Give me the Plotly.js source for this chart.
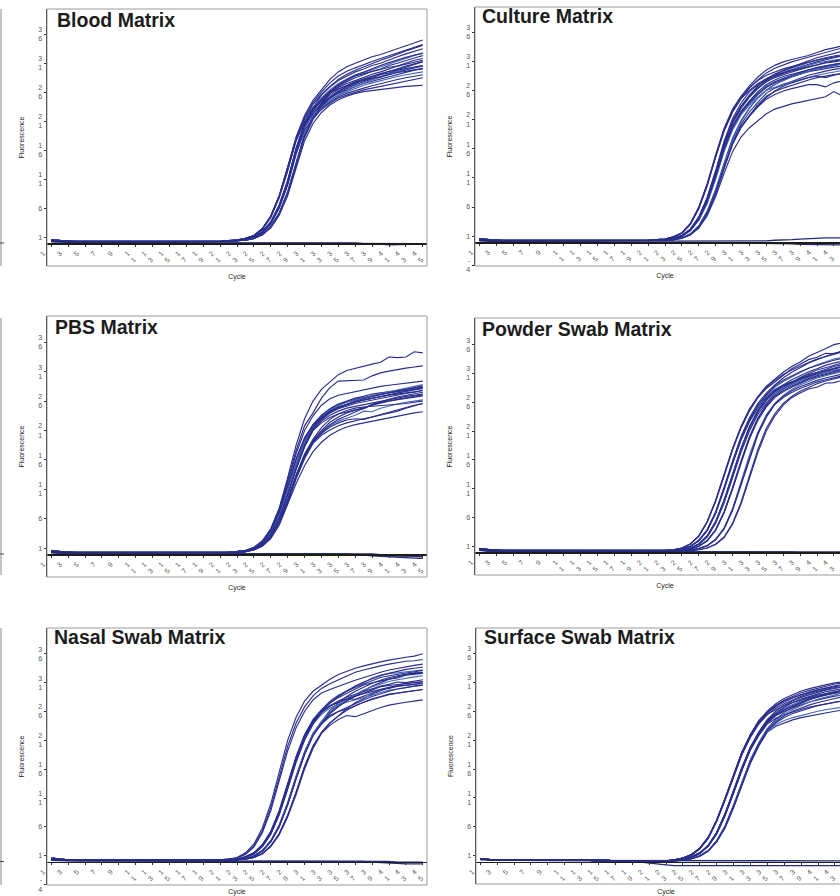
<!DOCTYPE html>
<html>
<head>
<meta charset="utf-8">
<script src="https://cdn.plot.ly/plotly-3.0.1.min.js"></script>
<style>
html,body{margin:0;padding:0;overflow:hidden;background:#fff;}
#chart{width:880px;height:896px;}
</style>
</head>
<body>
<div id="chart"></div>
<script>
// ---------------- DATA ----------------
const cycles = [1,2,3,4,5,6,7,8,9,10,11,12,13,14,15,16,17,18,19,20,21,22,23,24,25,26,27,28,29,30,31,32,33,34,35,36,37,38,39,40,41,42,43,44,45];
const xTickVals = [1,3,5,7,9,11,13,15,17,19,21,23,25,27,29,31,33,35,37,39,41,43,45];
const xTickText = ['1','3','5','7','9','1<br>1','1<br>3','1<br>5','1<br>7','1<br>9','2<br>1','2<br>3','2<br>5','2<br>7','2<br>9','3<br>1','3<br>3','3<br>5','3<br>7','3<br>9','4<br>1','4<br>3','4<br>5'];
const yTickVals = [-4,1,6,11,16,21,26,31,36];
const yTickText = ['-<br>4','1','6','1<br>1','1<br>6','2<br>1','2<br>6','3<br>1','3<br>6'];
const panelTitles = ['Blood Matrix','Culture Matrix','PBS Matrix','Powder Swab Matrix','Nasal Swab Matrix','Surface Swab Matrix'];
const xTitle = 'Cycle';
const yTitle = 'Fluorescence';

const bloodCurves = [
[0.6,0.4,0.3,0.3,0.3,0.2,0.2,0.2,0.2,0.2,0.2,0.2,0.2,0.2,0.2,0.2,0.2,0.2,0.2,0.2,0.3,0.4,0.5,0.8,1.3,2.5,4.7,8.2,13.0,18.3,22.0,24.6,26.5,28.2,29.5,30.4,31.0,31.6,32.1,32.5,33.0,33.5,34.0,34.6,35.0],
[0.5,0.3,0.3,0.2,0.2,0.2,0.2,0.2,0.2,0.2,0.2,0.2,0.3,0.3,0.2,0.2,0.2,0.2,0.2,0.2,0.3,0.4,0.5,0.8,1.3,2.4,4.6,8.0,12.8,18.0,21.7,24.2,26.0,27.6,28.8,29.6,30.2,30.8,31.3,31.8,32.3,32.8,33.2,33.8,34.2],
[0.4,0.3,0.2,0.2,0.2,0.2,0.2,0.2,0.3,0.3,0.3,0.2,0.2,0.2,0.2,0.2,0.2,0.2,0.2,0.3,0.3,0.3,0.4,0.6,1.0,1.9,3.6,6.4,10.6,16.2,20.6,23.3,25.5,26.9,28.0,28.8,29.5,30.0,30.6,31.0,31.6,32.1,32.6,33.0,33.5],
[0.6,0.4,0.3,0.3,0.3,0.2,0.2,0.2,0.2,0.2,0.2,0.2,0.2,0.2,0.2,0.2,0.2,0.2,0.2,0.2,0.3,0.3,0.4,0.6,1.0,2.0,3.7,6.6,10.8,16.4,20.8,23.2,25.0,26.4,27.5,28.3,29.0,29.4,29.9,30.3,30.9,31.3,31.8,32.4,32.8],
[0.5,0.3,0.3,0.2,0.2,0.2,0.2,0.2,0.2,0.2,0.2,0.2,0.3,0.3,0.2,0.2,0.2,0.2,0.2,0.2,0.2,0.3,0.4,0.5,0.8,1.5,2.8,5.0,8.6,13.6,18.6,21.8,24.0,25.8,27.0,27.8,28.5,29.0,29.6,30.0,30.6,31.0,31.5,31.9,32.3],
[0.4,0.3,0.2,0.2,0.2,0.2,0.2,0.2,0.3,0.3,0.3,0.2,0.2,0.2,0.2,0.2,0.2,0.2,0.2,0.3,0.3,0.3,0.4,0.6,1.0,1.9,3.5,6.3,10.4,16.0,20.4,22.8,24.5,25.8,26.8,27.5,28.0,28.6,29.1,29.5,30.0,30.6,31.0,31.5,31.8],
[0.6,0.4,0.3,0.3,0.3,0.2,0.2,0.2,0.2,0.2,0.2,0.2,0.2,0.2,0.2,0.2,0.2,0.2,0.2,0.2,0.3,0.4,0.5,0.7,1.2,2.3,4.4,7.8,12.4,17.6,21.0,23.0,24.3,25.5,26.5,27.2,27.8,28.3,28.8,29.2,29.6,29.9,30.3,30.8,31.2],
[0.5,0.3,0.3,0.2,0.2,0.2,0.2,0.2,0.2,0.2,0.2,0.2,0.3,0.3,0.2,0.2,0.2,0.2,0.2,0.2,0.3,0.3,0.4,0.6,1.0,1.8,3.4,6.1,10.2,15.6,19.8,22.3,24.0,25.1,26.0,26.7,27.3,27.8,28.3,28.7,29.1,29.5,29.8,30.2,30.5],
[0.4,0.3,0.2,0.2,0.2,0.2,0.2,0.2,0.3,0.3,0.3,0.2,0.2,0.2,0.2,0.2,0.2,0.2,0.2,0.3,0.2,0.3,0.4,0.5,0.8,1.5,2.9,5.2,8.9,14.0,18.8,21.8,23.8,24.9,25.8,26.4,27.0,27.5,27.9,28.3,28.7,29.1,29.5,29.8,30.0],
[0.6,0.4,0.3,0.3,0.3,0.2,0.2,0.2,0.2,0.2,0.2,0.2,0.2,0.2,0.2,0.2,0.2,0.2,0.2,0.2,0.3,0.3,0.4,0.6,1.0,1.9,3.5,6.2,10.3,15.8,20.0,22.0,23.5,24.6,25.5,26.1,26.7,27.2,27.6,28.0,28.4,28.7,29.0,29.3,29.5],
[0.5,0.3,0.3,0.2,0.2,0.2,0.2,0.2,0.2,0.2,0.2,0.2,0.3,0.3,0.2,0.2,0.2,0.2,0.2,0.2,0.2,0.3,0.4,0.5,0.8,1.4,2.7,4.9,8.4,13.4,18.2,21.3,23.2,24.3,25.2,25.8,26.3,26.7,27.1,27.5,27.8,28.2,28.5,28.8,29.0],
[0.4,0.3,0.2,0.2,0.2,0.2,0.2,0.2,0.3,0.3,0.3,0.2,0.2,0.2,0.2,0.2,0.2,0.2,0.2,0.3,0.3,0.3,0.4,0.6,0.9,1.8,3.3,6.0,10.0,15.3,19.4,21.6,23.0,24.1,25.0,25.5,26.0,26.4,26.7,27.0,27.4,27.7,28.0,28.3,28.5],
[0.6,0.4,0.3,0.3,0.3,0.2,0.2,0.2,0.2,0.2,0.2,0.2,0.2,0.2,0.2,0.2,0.2,0.2,0.2,0.2,0.2,0.3,0.4,0.5,0.8,1.4,2.6,4.8,8.2,13.0,17.6,20.6,22.5,23.8,24.7,25.3,25.8,26.1,26.3,26.5,26.7,26.8,27.0,27.1,27.2],
[0.5,0.3,0.3,0.2,0.2,0.2,0.2,0.2,0.2,0.2,0.2,0.2,0.3,0.3,0.2,0.2,0.2,0.2,0.2,0.2,0.3,0.4,0.5,0.8,1.2,2.4,4.5,8.0,12.6,17.8,21.4,23.4,24.5,26.0,27.2,28.0,28.8,29.2,29.6,30.0,30.3,30.5,30.8,31.2,31.5],
[0.4,0.3,0.2,0.2,0.2,0.2,0.2,0.2,0.3,0.3,0.3,0.2,0.2,0.2,0.2,0.2,0.2,0.2,0.2,0.3,0.3,0.3,0.4,0.6,1.0,1.9,3.6,6.5,10.8,16.3,20.5,23.0,24.8,26.2,27.3,28.2,28.9,29.5,30.1,30.6,31.1,31.6,32.0,32.4,32.7],
[0.6,0.4,0.3,0.3,0.3,0.2,0.2,0.2,0.2,0.2,0.2,0.2,0.2,0.2,0.2,0.2,0.2,0.2,0.2,0.2,0.2,0.3,0.4,0.5,0.8,1.5,2.8,5.1,8.7,13.8,18.7,21.6,23.4,24.6,25.5,26.3,27.0,27.6,28.1,28.6,29.2,29.6,30.0,30.3,30.6],
[0.5,0.3,0.3,0.2,0.2,0.2,0.2,0.2,0.2,0.2,0.2,0.2,0.3,0.3,0.2,0.2,0.2,0.2,0.2,0.2,0.3,0.4,0.5,0.8,1.3,2.5,4.6,8.1,12.9,18.1,21.6,23.9,25.6,27.0,28.2,29.1,29.8,30.4,31.0,31.5,32.0,32.6,33.1,33.6,34.1],
[0.4,0.3,0.2,0.2,0.2,0.2,0.2,0.2,0.3,0.3,0.3,0.2,0.2,0.2,0.2,0.2,0.2,0.2,0.2,0.3,0.3,0.3,0.4,0.6,1.0,1.9,3.5,6.3,10.5,16.0,20.2,22.5,24.0,25.2,26.2,27.0,27.6,28.0,28.5,29.0,29.3,29.8,30.1,30.3,30.6],
[0.6,0.4,0.3,0.3,0.3,0.2,0.2,0.2,0.2,0.2,0.2,0.2,0.2,0.2,0.2,0.2,0.2,0.2,0.2,0.2,0.2,0.3,0.4,0.5,0.8,1.5,2.8,5.1,8.7,13.7,18.5,21.5,23.6,25.0,26.1,26.9,27.5,28.1,28.7,29.1,29.6,30.0,30.5,30.9,31.3],
[0.5,0.3,0.3,0.2,0.2,0.2,0.2,0.2,0.2,0.2,0.2,0.2,0.3,0.3,0.2,0.2,0.2,0.2,0.2,0.2,0.3,0.3,0.4,0.6,1.0,1.9,3.5,6.3,10.5,16.1,20.5,23.1,24.7,25.9,26.6,27.1,27.8,28.0,28.4,28.6,29.0,29.4,29.6,29.9,30.1]
];
const bloodNegatives = [
[0.3,0.2,0.1,0.1,0.1,0.1,0.1,0.1,0.1,0.1,0.1,0.1,0.1,0.1,0.1,0.1,0.1,0.1,0.1,0.1,0.1,0.1,0.1,0.1,0.1,0.1,0.1,0.1,0.1,0.1,0.1,0.1,0.1,0.1,0.0,0.0,0.0,-0.1,-0.1,-0.2,-0.3,-0.3,-0.3,-0.3,-0.2],
[0.2,0.1,0.1,0.1,0.0,0.0,0.0,0.0,0.0,0.0,0.0,0.0,0.0,0.0,0.0,0.0,0.0,0.0,0.0,0.0,0.0,0.0,0.0,0.0,0.0,0.0,0.0,0.0,0.0,0.0,0.0,0.0,0.0,0.0,0.0,0.0,-0.1,-0.1,-0.1,-0.1,-0.1,-0.1,-0.1,-0.1,-0.1]
];

const cultureCurves = [
[0.6,0.4,0.3,0.3,0.3,0.2,0.2,0.2,0.2,0.2,0.2,0.2,0.2,0.2,0.2,0.2,0.2,0.2,0.2,0.2,0.3,0.4,0.5,0.9,1.6,3.2,6.0,10.0,15.0,19.5,22.8,25.0,26.8,28.3,29.5,30.3,30.9,31.3,31.6,32.0,32.5,33.0,33.3,33.7,34.0],
[0.5,0.3,0.3,0.2,0.2,0.2,0.2,0.2,0.2,0.2,0.2,0.2,0.3,0.3,0.2,0.2,0.2,0.2,0.2,0.2,0.3,0.4,0.5,0.9,1.5,3.0,5.7,9.6,14.6,19.0,22.3,24.6,26.4,27.8,29.0,29.8,30.4,30.9,31.3,31.7,32.1,32.5,33.0,33.3,33.5],
[0.4,0.3,0.2,0.2,0.2,0.2,0.2,0.2,0.3,0.3,0.3,0.2,0.2,0.2,0.2,0.2,0.2,0.2,0.2,0.3,0.2,0.3,0.4,0.6,1.1,2.2,4.2,7.5,12.0,17.0,20.8,23.3,25.2,26.8,28.0,28.8,29.4,29.9,30.4,30.8,31.2,31.5,31.8,32.0,32.2],
[0.6,0.4,0.3,0.3,0.3,0.2,0.2,0.2,0.2,0.2,0.2,0.2,0.2,0.2,0.2,0.2,0.2,0.2,0.2,0.2,0.2,0.3,0.4,0.6,1.1,2.1,4.0,7.2,11.6,16.5,20.3,22.9,24.8,26.3,27.5,28.3,28.9,29.4,29.9,30.3,30.7,31.0,31.2,31.4,31.5],
[0.5,0.3,0.3,0.2,0.2,0.2,0.2,0.2,0.2,0.2,0.2,0.2,0.3,0.3,0.2,0.2,0.2,0.2,0.2,0.2,0.3,0.4,0.5,0.8,1.5,3.0,5.8,9.8,14.8,19.2,22.4,24.6,26.0,27.2,28.0,28.5,29.0,29.4,29.7,30.0,30.4,30.8,31.1,31.3,31.5],
[0.4,0.3,0.2,0.2,0.2,0.2,0.2,0.2,0.3,0.3,0.3,0.2,0.2,0.2,0.2,0.2,0.2,0.2,0.2,0.3,0.2,0.3,0.4,0.6,1.0,2.0,3.9,7.0,11.3,16.2,19.9,22.4,24.2,25.8,27.0,27.8,28.4,28.8,29.2,29.6,29.9,30.2,30.5,30.8,31.0],
[0.6,0.4,0.3,0.3,0.3,0.2,0.2,0.2,0.2,0.2,0.2,0.2,0.2,0.2,0.2,0.2,0.2,0.2,0.2,0.2,0.2,0.2,0.3,0.4,0.7,1.4,2.8,5.3,9.0,13.5,17.8,20.8,23.0,24.7,26.0,27.0,27.8,28.4,28.9,29.3,29.7,30.0,30.3,30.6,30.8],
[0.5,0.3,0.3,0.2,0.2,0.2,0.2,0.2,0.2,0.2,0.2,0.2,0.3,0.3,0.2,0.2,0.2,0.2,0.2,0.2,0.2,0.3,0.4,0.6,1.0,2.0,3.8,6.8,11.0,15.8,19.5,22.0,23.8,25.3,26.5,27.3,27.9,28.4,28.8,29.2,29.5,29.8,30.0,30.1,30.2],
[0.4,0.3,0.2,0.2,0.2,0.2,0.2,0.2,0.3,0.3,0.3,0.2,0.2,0.2,0.2,0.2,0.2,0.2,0.2,0.3,0.2,0.2,0.3,0.4,0.7,1.3,2.6,5.0,8.6,13.0,17.2,20.2,22.3,24.0,25.5,26.4,27.0,27.6,28.1,28.6,29.0,29.3,29.6,29.8,30.0],
[0.6,0.4,0.3,0.3,0.3,0.2,0.2,0.2,0.2,0.2,0.2,0.2,0.2,0.2,0.2,0.2,0.2,0.2,0.2,0.2,0.2,0.3,0.4,0.6,1.0,1.9,3.7,6.6,10.8,15.5,19.2,21.8,23.5,24.9,26.0,26.6,27.1,27.5,27.9,28.3,28.6,28.9,29.2,29.4,29.5],
[0.5,0.3,0.3,0.2,0.2,0.2,0.2,0.2,0.2,0.2,0.2,0.2,0.3,0.3,0.2,0.2,0.2,0.2,0.2,0.2,0.2,0.2,0.3,0.4,0.7,1.3,2.5,4.8,8.3,12.6,16.8,19.8,21.8,23.6,25.0,25.8,26.4,26.9,27.4,27.8,28.2,28.5,28.7,28.9,29.0],
[0.4,0.3,0.2,0.2,0.2,0.2,0.2,0.2,0.3,0.3,0.3,0.2,0.2,0.2,0.2,0.2,0.2,0.2,0.2,0.3,0.2,0.2,0.3,0.4,0.7,1.3,2.6,4.9,8.4,12.8,16.9,19.7,21.6,23.2,24.5,25.3,25.9,26.3,26.7,27.0,27.0,26.6,27.3,27.7,28.0],
[0.6,0.4,0.3,0.3,0.3,0.2,0.2,0.2,0.2,0.2,0.2,0.2,0.2,0.2,0.2,0.2,0.2,0.2,0.2,0.2,0.2,0.2,0.3,0.4,0.6,1.2,2.4,4.5,7.8,11.8,15.5,18.0,19.6,20.8,22.0,22.8,23.3,23.7,24.0,24.3,24.6,24.9,25.8,25.1,25.5],
[0.5,0.3,0.3,0.2,0.2,0.2,0.2,0.2,0.2,0.2,0.2,0.2,0.3,0.3,0.2,0.2,0.2,0.2,0.2,0.2,0.2,0.3,0.4,0.6,1.1,2.2,4.3,7.7,12.3,17.3,21.2,23.8,25.8,27.0,27.8,28.6,29.4,30.0,30.6,31.1,31.6,32.0,32.4,32.7,33.0],
[0.4,0.3,0.2,0.2,0.2,0.2,0.2,0.2,0.3,0.3,0.3,0.2,0.2,0.2,0.2,0.2,0.2,0.2,0.2,0.3,0.2,0.3,0.4,0.6,1.1,2.2,4.2,7.4,11.8,16.8,20.6,23.1,25.0,26.4,27.5,28.2,28.7,29.2,29.6,30.0,30.4,30.7,30.9,31.2,31.4],
[0.6,0.4,0.3,0.3,0.3,0.2,0.2,0.2,0.2,0.2,0.2,0.2,0.2,0.2,0.2,0.2,0.2,0.2,0.2,0.2,0.2,0.2,0.3,0.4,0.7,1.4,2.7,5.2,8.8,13.3,17.5,20.6,22.9,24.7,26.1,27.0,27.7,28.3,28.8,29.3,29.7,30.0,30.3,30.5,30.7],
[0.5,0.3,0.3,0.2,0.2,0.2,0.2,0.2,0.2,0.2,0.2,0.2,0.3,0.3,0.2,0.2,0.2,0.2,0.2,0.2,0.3,0.4,0.5,0.9,1.6,3.1,5.9,9.9,14.8,19.3,22.5,24.8,26.5,27.7,28.6,29.2,29.7,30.1,30.5,30.9,31.3,31.6,31.9,32.2,32.4],
[0.4,0.3,0.2,0.2,0.2,0.2,0.2,0.2,0.3,0.3,0.3,0.2,0.2,0.2,0.2,0.2,0.2,0.2,0.2,0.3,0.2,0.3,0.4,0.6,1.0,2.0,3.9,7.0,11.2,16.0,19.7,22.2,24.0,25.5,26.7,27.5,28.1,28.6,29.1,29.5,29.9,30.2,30.5,30.7,30.9],
[0.6,0.4,0.3,0.3,0.3,0.2,0.2,0.2,0.2,0.2,0.2,0.2,0.2,0.2,0.2,0.2,0.2,0.2,0.2,0.2,0.2,0.2,0.3,0.4,0.7,1.3,2.6,5.0,8.5,12.8,16.8,19.6,21.6,23.3,24.8,25.9,26.7,27.3,27.8,28.2,28.5,28.2,28.6,29.0,29.3],
[0.5,0.3,0.3,0.2,0.2,0.2,0.2,0.2,0.2,0.2,0.2,0.2,0.3,0.3,0.2,0.2,0.2,0.2,0.2,0.2,0.2,0.3,0.4,0.6,1.1,2.1,4.1,7.3,11.7,16.6,20.5,23.0,25.0,26.5,27.7,28.5,29.1,29.6,30.1,30.5,30.9,31.3,31.6,31.9,32.1]
];
const cultureNegatives = [
[0.3,0.2,0.1,0.1,0.1,0.1,0.1,0.1,0.1,0.1,0.1,0.1,0.1,0.1,0.1,0.1,0.1,0.1,0.1,0.1,0.1,0.1,0.1,0.1,0.1,0.1,0.1,0.1,0.1,0.1,0.1,0.1,0.1,0.2,0.2,0.3,0.3,0.4,0.5,0.6,0.6,0.7,0.7,0.7,0.7],
[0.2,0.1,0.0,0.0,0.0,0.0,0.0,0.0,0.0,0.0,0.0,0.0,0.0,0.0,0.0,0.0,0.0,0.0,0.0,0.0,0.0,0.0,0.0,0.0,0.0,0.0,0.0,0.0,0.0,0.0,-0.1,-0.1,-0.2,-0.2,-0.2,-0.3,-0.3,-0.3,-0.4,-0.4,-0.4,-0.5,-0.5,-0.5,-0.5]
];

const pbsCurves = [
[0.6,0.4,0.3,0.3,0.3,0.2,0.2,0.2,0.2,0.2,0.2,0.2,0.2,0.2,0.2,0.2,0.2,0.2,0.2,0.2,0.3,0.3,0.4,0.6,1.1,2.2,4.3,7.8,13.0,18.5,23.0,26.0,28.0,29.3,30.5,31.2,31.6,32.0,32.3,32.6,33.5,33.4,33.5,34.4,34.2],
[0.5,0.3,0.3,0.2,0.2,0.2,0.2,0.2,0.2,0.2,0.2,0.2,0.3,0.3,0.2,0.2,0.2,0.2,0.2,0.2,0.3,0.3,0.4,0.6,1.1,2.2,4.2,7.6,12.5,17.6,21.8,24.0,26.5,28.3,29.4,29.5,29.5,29.6,30.3,30.8,31.1,31.4,31.6,31.8,32.0],
[0.4,0.3,0.2,0.2,0.2,0.2,0.2,0.2,0.3,0.3,0.3,0.2,0.2,0.2,0.2,0.2,0.2,0.2,0.2,0.3,0.3,0.3,0.4,0.6,1.1,2.1,4.1,7.4,12.2,17.0,21.0,23.5,25.3,26.4,27.0,27.3,27.7,28.0,28.3,28.5,28.7,28.9,29.1,29.3,29.4],
[0.6,0.4,0.3,0.3,0.3,0.2,0.2,0.2,0.2,0.2,0.2,0.2,0.2,0.2,0.2,0.2,0.2,0.2,0.2,0.2,0.2,0.3,0.4,0.5,0.9,1.8,3.5,6.5,10.5,15.0,18.8,21.8,23.3,24.3,25.0,25.5,25.9,26.2,26.5,26.8,27.1,27.4,27.7,27.9,28.1],
[0.5,0.3,0.3,0.2,0.2,0.2,0.2,0.2,0.2,0.2,0.2,0.2,0.3,0.3,0.2,0.2,0.2,0.2,0.2,0.2,0.2,0.3,0.4,0.5,0.9,1.8,3.5,6.4,10.3,14.8,18.6,21.5,23.0,24.0,24.7,25.2,25.6,25.9,26.2,26.5,26.8,27.0,27.3,27.5,27.8],
[0.4,0.3,0.2,0.2,0.2,0.2,0.2,0.2,0.3,0.3,0.3,0.2,0.2,0.2,0.2,0.2,0.2,0.2,0.2,0.3,0.3,0.3,0.4,0.6,1.0,2.1,4.0,7.2,11.6,16.2,19.8,22.0,23.5,24.6,25.4,25.9,26.3,26.6,26.9,27.2,27.4,27.6,27.8,28.0,28.2],
[0.6,0.4,0.3,0.3,0.3,0.2,0.2,0.2,0.2,0.2,0.2,0.2,0.2,0.2,0.2,0.2,0.2,0.2,0.2,0.2,0.2,0.3,0.4,0.5,0.9,1.7,3.4,6.3,10.2,14.6,18.4,21.2,22.6,23.6,24.3,24.8,25.1,25.4,25.7,26.0,26.2,26.5,26.8,27.0,27.2],
[0.5,0.3,0.3,0.2,0.2,0.2,0.2,0.2,0.2,0.2,0.2,0.2,0.3,0.3,0.2,0.2,0.2,0.2,0.2,0.2,0.2,0.2,0.3,0.4,0.8,1.5,3.0,5.6,9.2,13.3,16.8,19.3,21.0,22.4,23.3,24.0,24.5,24.9,25.3,25.7,26.0,26.3,26.6,26.9,27.1],
[0.4,0.3,0.2,0.2,0.2,0.2,0.2,0.2,0.3,0.3,0.3,0.2,0.2,0.2,0.2,0.2,0.2,0.2,0.2,0.3,0.2,0.3,0.4,0.5,0.9,1.7,3.4,6.2,10.0,14.4,18.2,21.0,22.3,23.2,23.8,24.2,24.5,24.7,25.4,25.8,26.0,26.3,26.5,26.7,26.9],
[0.6,0.4,0.3,0.3,0.3,0.2,0.2,0.2,0.2,0.2,0.2,0.2,0.2,0.2,0.2,0.2,0.2,0.2,0.2,0.2,0.2,0.2,0.3,0.4,0.8,1.5,2.9,5.5,9.0,13.0,16.5,19.0,20.6,21.8,22.6,23.1,23.6,24.3,24.2,24.8,25.2,25.5,25.8,26.0,26.2],
[0.5,0.3,0.3,0.2,0.2,0.2,0.2,0.2,0.2,0.2,0.2,0.2,0.3,0.3,0.2,0.2,0.2,0.2,0.2,0.2,0.2,0.2,0.3,0.4,0.7,1.4,2.8,5.3,8.8,12.8,16.2,18.8,20.2,21.1,21.8,22.3,22.7,23.0,23.3,23.6,24.0,24.3,24.8,25.2,25.6],
[0.4,0.3,0.2,0.2,0.2,0.2,0.2,0.2,0.3,0.3,0.3,0.2,0.2,0.2,0.2,0.2,0.2,0.2,0.2,0.3,0.2,0.2,0.3,0.4,0.7,1.3,2.6,4.9,8.3,12.0,15.0,17.4,19.0,20.2,21.0,21.6,22.0,22.3,22.6,22.9,23.2,23.5,23.8,24.0,24.2],
[0.6,0.4,0.3,0.3,0.3,0.2,0.2,0.2,0.2,0.2,0.2,0.2,0.2,0.2,0.2,0.2,0.2,0.2,0.2,0.2,0.2,0.3,0.4,0.5,0.9,1.8,3.6,6.6,10.7,15.3,19.2,22.0,23.6,24.7,25.5,26.0,26.5,26.8,27.2,27.4,27.6,27.8,28.0,28.2,28.4],
[0.5,0.3,0.3,0.2,0.2,0.2,0.2,0.2,0.2,0.2,0.2,0.2,0.3,0.3,0.2,0.2,0.2,0.2,0.2,0.2,0.2,0.2,0.3,0.4,0.8,1.5,3.0,5.7,9.3,13.5,17.0,19.5,21.5,22.9,23.8,24.4,24.8,25.0,25.1,25.3,25.4,25.5,25.6,25.8,26.0],
[0.4,0.3,0.2,0.2,0.2,0.2,0.2,0.2,0.3,0.3,0.3,0.2,0.2,0.2,0.2,0.2,0.2,0.2,0.2,0.3,0.2,0.3,0.4,0.5,0.9,1.8,3.5,6.4,10.4,14.9,18.7,21.6,23.1,24.1,24.9,25.4,25.8,26.2,26.5,26.8,27.1,27.3,27.6,27.9,28.3],
[0.6,0.4,0.3,0.3,0.3,0.2,0.2,0.2,0.2,0.2,0.2,0.2,0.2,0.2,0.2,0.2,0.2,0.2,0.2,0.2,0.2,0.3,0.4,0.5,0.9,1.8,3.5,6.5,10.6,15.1,19.0,21.9,23.4,24.5,25.2,25.8,26.2,26.6,27.0,27.3,27.6,27.9,28.2,28.5,28.8],
[0.5,0.3,0.3,0.2,0.2,0.2,0.2,0.2,0.2,0.2,0.2,0.2,0.3,0.3,0.2,0.2,0.2,0.2,0.2,0.2,0.2,0.2,0.3,0.4,0.8,1.5,2.9,5.5,9.1,13.2,16.7,19.2,20.8,22.0,22.9,23.5,24.2,24.8,25.4,25.9,26.3,26.7,27.0,27.3,27.5],
[0.4,0.3,0.2,0.2,0.2,0.2,0.2,0.2,0.3,0.3,0.3,0.2,0.2,0.2,0.2,0.2,0.2,0.2,0.2,0.3,0.3,0.3,0.4,0.6,1.0,2.0,3.9,7.1,11.4,16.0,19.6,21.9,23.3,24.3,25.0,25.5,25.9,26.2,26.5,26.8,27.0,27.2,27.4,27.6,27.8],
[0.6,0.4,0.3,0.3,0.3,0.2,0.2,0.2,0.2,0.2,0.2,0.2,0.2,0.2,0.2,0.2,0.2,0.2,0.2,0.2,0.2,0.3,0.4,0.5,0.9,1.7,3.4,6.2,10.1,14.5,18.3,21.1,22.8,24.0,24.9,25.5,26.0,26.4,26.8,27.1,27.4,27.7,28.0,28.3,28.6],
[0.5,0.3,0.3,0.2,0.2,0.2,0.2,0.2,0.2,0.2,0.2,0.2,0.3,0.3,0.2,0.2,0.2,0.2,0.2,0.2,0.2,0.2,0.3,0.4,0.8,1.5,2.9,5.4,8.9,12.9,16.4,19.0,20.5,21.6,22.3,22.8,23.0,22.9,23.3,23.8,24.2,24.6,25.0,25.3,25.6]
];
const pbsNegatives = [
[0.4,0.2,0.1,0.1,0.1,0.1,0.1,0.1,0.1,0.1,0.1,0.1,0.1,0.1,0.1,0.1,0.1,0.1,0.1,0.1,0.1,0.1,0.1,0.1,0.1,0.1,0.1,0.1,0.1,0.1,0.1,0.1,0.0,0.0,-0.1,-0.1,-0.2,-0.2,-0.3,-0.4,-0.5,-0.5,-0.6,-0.7,-0.75],
[0.3,0.1,0.1,0.1,0.1,0.1,0.1,0.1,0.1,0.1,0.1,0.1,0.1,0.1,0.1,0.1,0.1,0.1,0.1,0.1,0.1,0.1,0.1,0.1,0.1,0.1,0.1,0.1,0.1,0.1,0.1,0.1,0.1,0.1,0.0,0.0,-0.1,-0.1,-0.2,-0.2,-0.3,-0.3,-0.4,-0.4,-0.5],
[0.2,0.1,0.1,0.1,0.1,0.1,0.1,0.1,0.1,0.1,0.1,0.1,0.1,0.1,0.1,0.1,0.1,0.1,0.1,0.1,0.1,0.1,0.1,0.1,0.1,0.1,0.1,0.1,0.1,0.1,0.1,0.1,0.1,0.1,0.1,0.1,0.0,0.0,0.0,-0.1,-0.1,-0.1,-0.2,-0.2,-0.2]
];

const powderCurves = [
[0.6,0.4,0.3,0.3,0.3,0.2,0.2,0.2,0.2,0.2,0.2,0.2,0.2,0.2,0.2,0.2,0.2,0.2,0.2,0.2,0.2,0.2,0.3,0.4,0.7,1.4,2.8,5.3,9.0,13.5,18.0,21.8,24.8,27.0,28.8,30.0,31.2,32.2,33.0,34.0,34.6,35.3,36.0,36.3,36.6],
[0.5,0.3,0.3,0.2,0.2,0.2,0.2,0.2,0.2,0.2,0.2,0.2,0.3,0.3,0.2,0.2,0.2,0.2,0.2,0.2,0.2,0.2,0.3,0.4,0.7,1.4,2.7,5.2,8.8,13.2,17.7,21.5,24.5,26.8,28.4,29.5,30.7,31.8,32.6,33.4,33.8,34.5,34.4,35.0,35.5],
[0.4,0.3,0.2,0.2,0.2,0.2,0.2,0.2,0.3,0.3,0.3,0.2,0.2,0.2,0.2,0.2,0.2,0.2,0.2,0.3,0.2,0.2,0.2,0.3,0.5,1.0,2.0,3.9,7.0,11.2,15.8,20.0,23.3,25.8,27.6,29.0,30.2,31.2,32.0,32.8,33.4,34.0,34.5,34.8,35.0],
[0.6,0.4,0.3,0.3,0.3,0.2,0.2,0.2,0.2,0.2,0.2,0.2,0.2,0.2,0.2,0.2,0.2,0.2,0.2,0.2,0.2,0.2,0.2,0.3,0.5,1.0,2.0,3.8,6.8,11.0,15.5,19.6,22.8,25.3,27.1,28.6,29.6,30.4,31.2,31.9,32.5,33.0,33.5,33.8,34.1],
[0.5,0.3,0.3,0.2,0.2,0.2,0.2,0.2,0.2,0.2,0.2,0.2,0.3,0.3,0.2,0.2,0.2,0.2,0.2,0.2,0.2,0.2,0.2,0.2,0.4,0.7,1.4,2.8,5.3,9.0,13.5,18.0,21.8,24.6,26.6,28.0,29.0,29.9,30.6,31.3,31.8,32.4,32.8,33.2,33.5],
[0.4,0.3,0.2,0.2,0.2,0.2,0.2,0.2,0.3,0.3,0.3,0.2,0.2,0.2,0.2,0.2,0.2,0.2,0.2,0.3,0.2,0.2,0.2,0.2,0.4,0.7,1.4,2.7,5.1,8.7,13.1,17.6,21.4,24.3,26.3,27.8,28.6,29.3,30.0,30.6,31.1,31.5,32.0,32.3,32.6],
[0.6,0.4,0.3,0.3,0.3,0.2,0.2,0.2,0.2,0.2,0.2,0.2,0.2,0.2,0.2,0.2,0.2,0.2,0.2,0.2,0.2,0.2,0.2,0.2,0.3,0.5,1.0,2.0,3.9,7.0,11.2,15.8,20.0,23.3,25.6,27.2,28.3,29.1,29.8,30.4,30.9,31.4,31.8,32.1,32.4],
[0.5,0.3,0.3,0.2,0.2,0.2,0.2,0.2,0.2,0.2,0.2,0.2,0.3,0.3,0.2,0.2,0.2,0.2,0.2,0.2,0.2,0.2,0.2,0.3,0.5,1.0,1.9,3.7,6.7,10.8,15.3,19.4,22.6,25.0,26.9,28.2,29.0,29.6,30.1,30.5,30.9,31.2,31.5,31.8,32.0],
[0.4,0.3,0.2,0.2,0.2,0.2,0.2,0.2,0.3,0.3,0.3,0.2,0.2,0.2,0.2,0.2,0.2,0.2,0.2,0.3,0.2,0.2,0.2,0.2,0.3,0.5,1.0,1.9,3.8,6.8,10.9,15.4,19.6,22.9,25.2,26.8,27.8,28.6,29.3,29.9,30.4,30.8,31.2,31.5,31.8],
[0.6,0.4,0.3,0.3,0.3,0.2,0.2,0.2,0.2,0.2,0.2,0.2,0.2,0.2,0.2,0.2,0.2,0.2,0.2,0.2,0.2,0.2,0.2,0.2,0.2,0.3,0.6,1.1,2.2,4.2,7.5,12.0,16.8,20.8,23.8,25.8,27.2,28.2,29.0,29.6,30.2,30.6,31.0,31.3,31.6],
[0.5,0.3,0.3,0.2,0.2,0.2,0.2,0.2,0.2,0.2,0.2,0.2,0.3,0.3,0.2,0.2,0.2,0.2,0.2,0.2,0.2,0.2,0.2,0.2,0.2,0.3,0.6,1.1,2.1,4.0,7.2,11.6,16.4,20.4,23.4,25.6,26.8,27.7,28.4,29.0,29.5,29.9,30.3,30.6,30.9],
[0.4,0.3,0.2,0.2,0.2,0.2,0.2,0.2,0.3,0.3,0.3,0.2,0.2,0.2,0.2,0.2,0.2,0.2,0.2,0.3,0.2,0.2,0.2,0.2,0.2,0.3,0.4,0.7,1.4,2.6,5.0,8.6,13.2,17.8,21.5,24.0,25.8,27.0,27.9,28.6,29.2,29.7,30.1,30.4,30.7],
[0.6,0.4,0.3,0.3,0.3,0.2,0.2,0.2,0.2,0.2,0.2,0.2,0.2,0.2,0.2,0.2,0.2,0.2,0.2,0.2,0.2,0.2,0.2,0.2,0.2,0.2,0.4,0.7,1.3,2.5,4.8,8.3,12.8,17.3,21.0,23.6,25.5,26.8,27.6,28.3,28.6,29.3,29.4,29.8,30.0],
[0.5,0.3,0.3,0.2,0.2,0.2,0.2,0.2,0.2,0.2,0.2,0.2,0.3,0.3,0.2,0.2,0.2,0.2,0.2,0.2,0.2,0.2,0.2,0.2,0.4,0.7,1.3,2.6,5.0,8.5,12.9,17.3,21.0,23.9,25.9,27.5,28.5,29.4,30.3,31.0,31.6,32.0,32.4,32.8,33.0],
[0.4,0.3,0.2,0.2,0.2,0.2,0.2,0.2,0.3,0.3,0.3,0.2,0.2,0.2,0.2,0.2,0.2,0.2,0.2,0.3,0.2,0.2,0.2,0.3,0.5,1.0,2.0,3.8,6.9,11.1,15.7,19.8,23.0,25.5,27.3,28.8,29.8,30.6,31.3,31.9,32.4,32.9,33.3,33.6,33.9],
[0.6,0.4,0.3,0.3,0.3,0.2,0.2,0.2,0.2,0.2,0.2,0.2,0.2,0.2,0.2,0.2,0.2,0.2,0.2,0.2,0.2,0.2,0.2,0.2,0.4,0.7,1.4,2.8,5.2,8.9,13.4,17.8,21.6,24.4,26.4,27.7,28.5,29.2,29.8,30.3,30.8,31.2,31.6,31.9,32.2],
[0.5,0.3,0.3,0.2,0.2,0.2,0.2,0.2,0.2,0.2,0.2,0.2,0.3,0.3,0.2,0.2,0.2,0.2,0.2,0.2,0.2,0.2,0.2,0.2,0.3,0.5,1.0,2.0,3.8,6.9,11.0,15.6,19.8,23.1,25.4,27.0,28.0,28.8,29.5,30.1,30.6,31.0,31.4,31.7,32.0],
[0.4,0.3,0.2,0.2,0.2,0.2,0.2,0.2,0.3,0.3,0.3,0.2,0.2,0.2,0.2,0.2,0.2,0.2,0.2,0.3,0.2,0.2,0.3,0.4,0.7,1.4,2.8,5.2,8.9,13.4,17.9,21.7,24.7,26.9,28.6,29.8,30.8,31.6,32.3,32.9,33.5,33.9,34.4,34.7,35.0],
[0.6,0.4,0.3,0.3,0.3,0.2,0.2,0.2,0.2,0.2,0.2,0.2,0.2,0.2,0.2,0.2,0.2,0.2,0.2,0.2,0.2,0.2,0.2,0.2,0.2,0.3,0.6,1.1,2.2,4.1,7.4,11.8,16.6,20.6,23.6,25.7,27.0,28.0,28.7,29.3,29.8,30.2,30.6,30.9,31.2],
[0.5,0.3,0.3,0.2,0.2,0.2,0.2,0.2,0.2,0.2,0.2,0.2,0.3,0.3,0.2,0.2,0.2,0.2,0.2,0.2,0.2,0.2,0.2,0.2,0.4,0.7,1.4,2.8,5.3,9.0,13.4,17.9,21.7,24.5,26.5,27.9,28.8,29.5,30.1,30.8,31.2,31.7,32.2,32.5,32.8]
];
const powderNegatives = [
[0.6,0.4,0.2,0.1,0.1,0.1,0.1,0.1,0.1,0.1,0.1,0.1,0.1,0.1,0.1,0.1,0.1,0.1,0.1,0.1,0.1,0.1,0.1,0.1,0.1,0.1,0.1,0.1,0.1,0.1,0.1,0.1,0.1,0.1,0.1,0.0,0.0,0.0,-0.1,-0.1,-0.1,-0.2,-0.2,-0.2,-0.2],
[0.3,0.1,0.1,0.1,0.1,0.1,0.1,0.1,0.1,0.1,0.1,0.1,0.1,0.1,0.1,0.1,0.1,0.1,0.1,0.1,0.1,0.1,0.1,0.1,0.1,0.1,0.1,0.1,0.1,0.1,0.1,0.1,0.1,0.1,0.1,0.1,0.1,0.1,0.1,0.0,0.0,0.0,0.0,0.0,0.0]
];

const nasalCurves = [
[0.6,0.4,0.3,0.3,0.3,0.2,0.2,0.2,0.2,0.2,0.2,0.2,0.2,0.2,0.2,0.2,0.2,0.2,0.2,0.2,0.3,0.4,0.7,1.5,3.0,5.8,10.0,15.5,21.0,25.0,27.8,29.5,30.6,31.6,32.4,33.0,33.5,33.9,34.3,34.6,34.9,35.2,35.4,35.6,36.0],
[0.5,0.3,0.3,0.2,0.2,0.2,0.2,0.2,0.2,0.2,0.2,0.2,0.3,0.3,0.2,0.2,0.2,0.2,0.2,0.2,0.3,0.4,0.6,1.3,2.7,5.3,9.3,14.6,20.0,24.0,26.8,28.7,30.0,30.8,31.5,32.2,32.8,33.2,33.6,33.9,34.2,34.5,34.7,34.8,35.0],
[0.4,0.3,0.2,0.2,0.2,0.2,0.2,0.2,0.3,0.3,0.3,0.2,0.2,0.2,0.2,0.2,0.2,0.2,0.2,0.3,0.3,0.4,0.6,1.2,2.5,5.0,8.8,14.0,19.2,23.2,26.0,28.0,29.2,29.8,30.4,30.9,31.4,31.9,32.3,32.8,33.2,33.5,33.7,34.0,34.2],
[0.6,0.4,0.3,0.3,0.3,0.2,0.2,0.2,0.2,0.2,0.2,0.2,0.2,0.2,0.2,0.2,0.2,0.2,0.2,0.2,0.2,0.3,0.4,0.8,1.5,2.9,5.2,8.8,13.5,18.2,22.0,24.6,26.3,27.8,28.8,29.6,30.3,31.0,31.8,32.3,32.6,32.7,32.9,33.1,33.2],
[0.5,0.3,0.3,0.2,0.2,0.2,0.2,0.2,0.2,0.2,0.2,0.2,0.3,0.3,0.2,0.2,0.2,0.2,0.2,0.2,0.2,0.3,0.4,0.8,1.4,2.8,5.0,8.5,13.1,17.8,21.6,24.2,26.0,27.4,28.4,29.2,29.9,30.6,31.0,31.3,31.6,31.8,32.3,32.5,32.6],
[0.4,0.3,0.2,0.2,0.2,0.2,0.2,0.2,0.3,0.3,0.3,0.2,0.2,0.2,0.2,0.2,0.2,0.2,0.2,0.3,0.2,0.2,0.3,0.5,1.0,1.9,3.6,6.3,10.2,14.8,19.0,22.2,24.3,26.2,27.5,28.6,29.5,30.2,30.9,31.4,31.9,32.2,32.5,32.7,32.8],
[0.6,0.4,0.3,0.3,0.3,0.2,0.2,0.2,0.2,0.2,0.2,0.2,0.2,0.2,0.2,0.2,0.2,0.2,0.2,0.2,0.2,0.3,0.4,0.7,1.4,2.7,4.9,8.4,12.9,17.6,21.4,24.0,25.8,27.0,27.8,28.5,29.0,29.5,30.0,30.4,30.7,31.1,31.0,31.3,31.5],
[0.5,0.3,0.3,0.2,0.2,0.2,0.2,0.2,0.2,0.2,0.2,0.2,0.3,0.3,0.2,0.2,0.2,0.2,0.2,0.2,0.2,0.2,0.3,0.5,1.0,1.9,3.5,6.2,10.0,14.6,18.8,22.0,24.0,25.8,27.0,27.9,28.6,29.2,29.8,30.3,30.5,30.7,30.9,31.0,31.2],
[0.4,0.3,0.2,0.2,0.2,0.2,0.2,0.2,0.3,0.3,0.3,0.2,0.2,0.2,0.2,0.2,0.2,0.2,0.2,0.3,0.2,0.2,0.3,0.4,0.7,1.4,2.7,4.8,8.0,12.0,16.5,20.0,22.4,24.0,25.3,26.5,27.5,28.3,29.0,29.6,30.1,30.4,30.6,30.8,30.9],
[0.6,0.4,0.3,0.3,0.3,0.2,0.2,0.2,0.2,0.2,0.2,0.2,0.2,0.2,0.2,0.2,0.2,0.2,0.2,0.2,0.2,0.3,0.4,0.7,1.3,2.6,4.8,8.2,12.7,17.4,21.2,23.8,25.5,26.6,27.2,27.6,27.9,28.4,28.8,29.3,29.7,29.9,30.2,30.4,30.5],
[0.5,0.3,0.3,0.2,0.2,0.2,0.2,0.2,0.2,0.2,0.2,0.2,0.3,0.3,0.2,0.2,0.2,0.2,0.2,0.2,0.2,0.2,0.3,0.5,0.9,1.8,3.4,6.0,9.8,14.3,18.5,21.8,24.0,25.3,26.0,26.4,27.0,27.6,28.2,28.6,29.0,29.2,29.4,29.6,29.8],
[0.4,0.3,0.2,0.2,0.2,0.2,0.2,0.2,0.3,0.3,0.3,0.2,0.2,0.2,0.2,0.2,0.2,0.2,0.2,0.3,0.2,0.2,0.3,0.4,0.7,1.3,2.6,4.6,7.7,11.6,16.0,19.6,22.2,23.6,24.6,25.3,25.1,25.6,26.2,26.7,27.1,27.4,27.6,27.8,28.0],
[0.6,0.4,0.3,0.3,0.3,0.2,0.2,0.2,0.2,0.2,0.2,0.2,0.2,0.2,0.2,0.2,0.2,0.2,0.2,0.2,0.2,0.2,0.3,0.5,0.9,1.8,3.5,6.1,9.9,14.5,18.7,22.0,24.2,25.6,26.8,27.8,28.7,29.6,30.4,31.0,31.6,32.0,32.4,32.6,32.7],
[0.5,0.3,0.3,0.2,0.2,0.2,0.2,0.2,0.2,0.2,0.2,0.2,0.3,0.3,0.2,0.2,0.2,0.2,0.2,0.2,0.2,0.3,0.4,0.7,1.3,2.6,4.7,8.1,12.5,17.2,21.0,23.8,26.0,27.0,27.6,28.2,28.1,28.6,29.2,29.8,30.0,30.4,30.5,30.7,30.9],
[0.4,0.3,0.2,0.2,0.2,0.2,0.2,0.2,0.3,0.3,0.3,0.2,0.2,0.2,0.2,0.2,0.2,0.2,0.2,0.3,0.2,0.3,0.4,0.8,1.5,2.8,5.1,8.6,13.3,18.0,21.8,24.4,26.1,27.5,28.6,29.5,30.2,30.8,31.4,31.9,32.2,32.4,32.7,32.9,33.1],
[0.6,0.4,0.3,0.3,0.3,0.2,0.2,0.2,0.2,0.2,0.2,0.2,0.2,0.2,0.2,0.2,0.2,0.2,0.2,0.2,0.2,0.2,0.3,0.5,1.0,1.9,3.6,6.3,10.1,14.7,18.9,22.1,24.2,25.9,27.2,28.2,29.0,29.7,30.3,30.8,31.2,31.5,31.8,32.0,32.2],
[0.5,0.3,0.3,0.2,0.2,0.2,0.2,0.2,0.2,0.2,0.2,0.2,0.3,0.3,0.2,0.2,0.2,0.2,0.2,0.2,0.2,0.3,0.4,0.7,1.4,2.7,5.0,8.5,13.0,17.7,21.5,24.1,25.8,26.9,27.6,28.2,28.7,29.1,29.5,29.9,30.2,30.5,30.9,31.0,31.1],
[0.4,0.3,0.2,0.2,0.2,0.2,0.2,0.2,0.3,0.3,0.3,0.2,0.2,0.2,0.2,0.2,0.2,0.2,0.2,0.3,0.2,0.2,0.3,0.5,0.9,1.8,3.5,6.1,9.9,14.4,18.6,21.8,23.8,25.1,26.0,26.7,27.4,28.0,28.6,29.1,29.5,29.9,30.2,30.4,30.6],
[0.6,0.4,0.3,0.3,0.3,0.2,0.2,0.2,0.2,0.2,0.2,0.2,0.2,0.2,0.2,0.2,0.2,0.2,0.2,0.2,0.2,0.3,0.4,0.8,1.5,2.9,5.2,8.8,13.4,18.1,21.9,24.5,26.2,27.6,28.7,29.6,30.4,31.1,31.7,32.2,32.6,33.0,33.3,33.5,33.7],
[0.5,0.3,0.3,0.2,0.2,0.2,0.2,0.2,0.2,0.2,0.2,0.2,0.3,0.3,0.2,0.2,0.2,0.2,0.2,0.2,0.2,0.2,0.3,0.4,0.7,1.4,2.7,4.8,8.0,12.0,16.4,19.9,22.3,24.0,25.2,26.2,27.0,27.6,28.1,28.5,28.9,29.2,29.4,29.6,29.8]
];
const nasalNegatives = [
[0.3,0.2,0.1,0.1,0.1,0.1,0.1,0.1,0.1,0.1,0.1,0.1,0.1,0.1,0.1,0.1,0.1,0.1,0.1,0.1,0.1,0.1,0.1,0.1,0.1,0.1,0.1,0.1,0.1,0.1,0.1,0.1,0.1,0.1,0.1,0.0,0.0,0.0,-0.1,-0.2,-0.3,-0.3,-0.4,-0.4,-0.4],
[0.2,0.1,0.1,0.1,0.1,0.1,0.1,0.1,0.1,0.1,0.1,0.1,0.1,0.1,0.1,0.1,0.1,0.1,0.1,0.1,0.1,0.1,0.1,0.1,0.1,0.1,0.1,0.1,0.1,0.1,0.1,0.1,0.1,0.1,0.1,0.1,0.1,0.0,0.0,0.0,0.0,-0.1,-0.1,-0.1,-0.1]
];

const surfaceCurves = [
[0.5,0.3,0.2,0.2,0.2,0.2,0.3,0.3,0.2,0.2,0.2,0.2,0.2,0.2,0.2,0.2,0.1,0.1,0.1,0.1,0.1,0.0,0.1,0.3,0.6,1.2,2.3,4.2,7.2,11.0,15.0,19.0,22.0,24.4,26.0,27.3,28.2,28.9,29.5,29.9,30.3,30.6,30.9,31.1,31.3],
[0.4,0.3,0.3,0.2,0.2,0.2,0.2,0.2,0.2,0.3,0.2,0.2,0.2,0.2,0.1,0.1,0.1,0.1,0.0,0.0,0.1,0.0,0.1,0.3,0.6,1.1,2.2,4.0,7.0,10.7,14.7,18.6,21.6,24.0,25.7,26.8,27.6,28.3,28.8,29.3,29.7,30.0,30.3,30.5,30.7],
[0.5,0.3,0.2,0.2,0.2,0.2,0.3,0.3,0.2,0.2,0.2,0.2,0.2,0.2,0.2,0.2,0.1,0.1,0.1,0.1,0.0,-0.1,0.0,0.2,0.4,0.8,1.5,2.8,5.0,8.3,12.3,16.3,19.8,22.4,24.6,26.0,27.0,27.8,28.4,28.9,29.3,29.7,30.0,30.2,30.4],
[0.4,0.3,0.3,0.2,0.2,0.2,0.2,0.2,0.2,0.3,0.2,0.2,0.2,0.2,0.1,0.1,0.1,0.1,0.0,0.0,0.0,-0.1,0.0,0.2,0.4,0.8,1.5,2.7,4.9,8.1,12.1,16.1,19.6,22.2,24.3,25.6,26.5,27.2,27.8,28.3,28.7,29.1,29.4,29.7,29.9],
[0.5,0.3,0.2,0.2,0.2,0.2,0.3,0.3,0.2,0.2,0.2,0.2,0.2,0.2,0.2,0.2,0.1,0.1,0.1,0.1,0.1,0.0,0.1,0.3,0.6,1.1,2.2,4.1,7.1,10.8,14.8,18.8,21.8,24.0,25.5,26.3,27.0,27.5,28.0,28.4,28.8,29.1,29.4,29.6,29.8],
[0.4,0.3,0.3,0.2,0.2,0.2,0.2,0.2,0.2,0.3,0.2,0.2,0.2,0.2,0.1,0.1,0.1,0.1,0.0,0.0,0.0,-0.1,-0.1,0.1,0.3,0.5,1.0,1.9,3.6,6.2,9.8,13.8,17.6,20.6,23.0,24.6,25.8,26.7,27.4,28.0,28.5,28.9,29.2,29.5,29.7],
[0.5,0.3,0.2,0.2,0.2,0.2,0.3,0.3,0.2,0.2,0.2,0.2,0.2,0.2,0.2,0.2,0.1,0.1,0.1,0.1,0.0,-0.1,0.0,0.2,0.4,0.7,1.4,2.7,4.8,8.0,11.9,15.9,19.4,22.0,24.0,25.2,26.0,26.6,27.1,27.6,28.0,28.3,28.6,28.8,29.0],
[0.4,0.3,0.3,0.2,0.2,0.2,0.2,0.2,0.2,0.3,0.2,0.2,0.2,0.2,0.1,0.1,0.1,0.1,0.0,0.0,0.0,-0.1,-0.1,0.1,0.3,0.5,1.0,1.9,3.5,6.0,9.6,13.6,17.4,20.4,22.8,24.2,25.2,26.0,26.6,27.1,27.5,27.9,28.2,28.5,28.7],
[0.5,0.3,0.2,0.2,0.2,0.2,0.3,0.3,0.2,0.2,0.2,0.2,0.2,0.2,0.2,0.2,0.1,0.1,0.1,0.1,0.0,-0.1,0.0,0.2,0.4,0.7,1.4,2.6,4.7,7.9,11.8,15.8,19.3,21.8,23.8,24.8,25.4,25.9,26.3,26.7,27.0,27.3,27.6,27.8,28.0],
[0.4,0.3,0.3,0.2,0.2,0.2,0.2,0.2,0.2,0.3,0.2,0.2,0.2,0.2,0.1,0.1,0.1,0.1,0.0,0.0,0.0,-0.1,-0.1,0.1,0.3,0.5,0.9,1.8,3.4,5.9,9.4,13.4,17.2,20.2,22.6,23.7,24.4,24.9,25.3,25.7,26.0,26.3,26.5,26.7,26.9],
[0.5,0.3,0.2,0.2,0.2,0.2,0.3,0.3,0.2,0.2,0.2,0.2,0.2,0.2,0.2,0.2,0.1,0.1,0.1,0.1,0.0,-0.1,-0.1,0.1,0.2,0.5,0.9,1.8,3.4,5.8,9.3,13.2,17.0,20.0,22.4,23.4,24.0,24.5,24.9,25.2,25.5,25.8,26.0,26.2,26.4],
[0.4,0.3,0.3,0.2,0.2,0.2,0.2,0.2,0.2,0.3,0.2,0.2,0.2,0.2,0.1,0.1,0.1,0.1,0.0,0.0,0.0,-0.1,0.0,0.2,0.4,0.8,1.5,2.8,5.0,8.2,12.2,16.2,19.7,22.3,24.2,25.3,26.2,26.9,27.5,28.1,28.6,29.0,29.3,29.6,29.8],
[0.5,0.3,0.2,0.2,0.2,0.2,0.3,0.3,0.2,0.2,0.2,0.2,0.2,0.2,0.2,0.2,0.1,0.1,0.1,0.1,0.1,0.0,0.1,0.3,0.6,1.2,2.3,4.2,7.1,10.9,14.9,18.9,21.9,24.3,25.8,27.0,27.9,28.6,29.2,29.6,30.0,30.4,30.7,30.9,31.1],
[0.4,0.3,0.3,0.2,0.2,0.2,0.2,0.2,0.2,0.3,0.2,0.2,0.2,0.2,0.1,0.1,0.1,0.1,0.0,0.0,0.0,-0.1,0.0,0.2,0.4,0.8,1.5,2.8,5.0,8.3,12.3,16.3,19.8,22.4,24.4,25.7,26.7,27.5,28.1,28.6,29.0,29.4,29.7,30.0,30.2],
[0.5,0.3,0.2,0.2,0.2,0.2,0.3,0.3,0.2,0.2,0.2,0.2,0.2,0.2,0.2,0.2,0.1,0.1,0.1,0.1,0.1,0.0,0.1,0.3,0.6,1.2,2.3,4.1,7.1,10.9,14.9,18.9,21.9,24.2,25.9,27.0,27.8,28.4,28.9,29.3,29.7,30.1,30.4,30.6,30.8],
[0.4,0.3,0.3,0.2,0.2,0.2,0.2,0.2,0.2,0.3,0.2,0.2,0.2,0.2,0.1,0.1,0.1,0.1,0.0,0.0,0.0,-0.1,-0.1,0.1,0.3,0.5,1.0,1.9,3.6,6.1,9.7,13.7,17.5,20.5,22.9,24.4,25.5,26.3,27.0,27.6,28.1,28.5,28.9,29.2,29.4],
[0.5,0.3,0.2,0.2,0.2,0.2,0.3,0.3,0.2,0.2,0.2,0.2,0.2,0.2,0.2,0.2,0.1,0.1,0.1,0.1,0.0,-0.1,0.0,0.2,0.4,0.7,1.4,2.7,4.9,8.1,12.0,16.0,19.5,22.1,24.1,25.4,26.3,27.0,27.6,28.1,28.5,28.8,29.1,29.3,29.5],
[0.4,0.3,0.3,0.2,0.2,0.2,0.2,0.2,0.2,0.3,0.2,0.2,0.2,0.2,0.1,0.1,0.1,0.1,0.0,0.0,0.0,-0.1,-0.1,0.1,0.3,0.5,0.9,1.8,3.5,6.0,9.5,13.5,17.3,20.3,22.7,24.0,24.9,25.6,26.1,26.6,27.0,27.3,27.6,27.9,28.1],
[0.5,0.3,0.2,0.2,0.2,0.2,0.3,0.3,0.2,0.2,0.2,0.2,0.2,0.2,0.2,0.2,0.1,0.1,0.1,0.1,0.1,0.0,0.1,0.3,0.6,1.1,2.2,4.0,6.9,10.6,14.6,18.5,21.5,23.8,25.4,26.5,27.3,28.0,28.6,29.1,29.5,29.8,30.1,30.3,30.5]
];
const surfaceNegatives = [
[0.4,0.3,0.2,0.2,0.2,0.2,0.2,0.2,0.2,0.2,0.2,0.2,0.2,0.2,0.2,0.2,0.2,0.1,0.1,-0.1,-0.3,-0.5,-0.6,-0.7,-0.7,-0.7,-0.7,-0.7,-0.7,-0.7,-0.7,-0.7,-0.7,-0.7,-0.7,-0.7,-0.7,-0.7,-0.7,-0.7,-0.7,-0.7,-0.7,-0.7,-0.7],
[0.3,0.2,0.2,0.2,0.2,0.2,0.2,0.2,0.2,0.2,0.2,0.2,0.2,0.2,0.2,0.1,0.1,0.1,0.1,0.1,0.1,0.1,0.1,0.1,0.1,0.1,0.1,0.1,0.1,0.1,0.1,0.1,0.1,0.1,0.1,0.1,0.1,0.1,0.1,0.1,0.1,0.1,0.1,0.1,0.1]
];

const panelCurves = [bloodCurves, cultureCurves, pbsCurves, powderCurves, nasalCurves, surfaceCurves];
const panelNegatives = [bloodNegatives, cultureNegatives, pbsNegatives, powderNegatives, nasalNegatives, surfaceNegatives];

// ---------------- LAYOUT GEOMETRY (pixels) ----------------
const W = 880, H = 896;
const geom = [
  {l:47,  r:427, t:9,   b:266, ax:243,   s:5.80, tx:8, ty:11},
  {l:475, r:855, t:7,   b:266, ax:242,   s:5.83, tx:5, ty:9},
  {l:47,  r:427, t:316, b:577, ax:554,   s:5.88, tx:6, ty:11},
  {l:475, r:855, t:318, b:575, ax:552,   s:5.76, tx:5, ty:11},
  {l:47,  r:427, t:628, b:885, ax:861.5, s:5.77, tx:5, ty:9},
  {l:476, r:856, t:628, b:884, ax:861.5, s:5.78, tx:6, ty:9}
];

const FONT = 'Arial, "Liberation Sans", sans-serif';
const LINE_DARK = '#2b2e8c';
const LINE_LIGHT = '#4466b8';

const traces = [];
const layout = {
  width: W, height: H,
  margin: {l:0, r:0, t:0, b:0},
  paper_bgcolor: '#fff', plot_bgcolor: '#fff',
  showlegend: false,
  font: {family: FONT, color: '#222'},
  shapes: [], annotations: []
};

geom.forEach((g, i) => {
  const n = i === 0 ? '' : String(i + 1);
  const xa = 'x' + n, ya = 'y' + n;
  panelCurves[i].forEach((yv, k) => {
    traces.push({x: cycles, y: yv, xaxis: xa, yaxis: ya, type: 'scatter', mode: 'lines',
      line: {color: (k % 6 === 3) ? LINE_LIGHT : LINE_DARK, width: 1.15}, hoverinfo: 'skip'});
  });
  panelNegatives[i].forEach((yv) => {
    traces.push({x: cycles, y: yv, xaxis: xa, yaxis: ya, type: 'scatter', mode: 'lines',
      line: {color: '#262a78', width: 1.3}, hoverinfo: 'skip'});
  });
  layout['xaxis' + n] = {
    domain: [g.l / W, g.r / W], range: [0.5, 45.5],
    anchor: 'free', position: (H - g.ax) / H,
    showline: true, linecolor: '#1c1c1c', linewidth: 1.5,
    tickmode: 'array', tickvals: xTickVals, ticktext: xTickText,
    ticks: 'outside', ticklen: 2, tickcolor: '#333', tickwidth: 1,
    tickangle: -45, ticklabelshift: -8, tickfont: {size: 7, color: '#555', family: FONT},
    showgrid: false, zeroline: false, fixedrange: true,
    title: {text: xTitle, font: {size: 7, color: '#222', family: FONT}, standoff: 11}
  };
  layout['yaxis' + n] = {
    domain: [(H - g.b) / H, (H - g.t) / H],
    range: [-(g.b - g.ax) / g.s, (g.ax - g.t) / g.s],
    anchor: xa,
    showline: true, linecolor: '#1c1c1c', linewidth: 1.5,
    tickmode: 'array', tickvals: yTickVals, ticktext: yTickText,
    ticks: 'outside', ticklen: 2, tickcolor: '#333', tickwidth: 1,
    tickfont: {size: 7, color: '#555', family: FONT},
    showgrid: false, zeroline: false, fixedrange: true,
    title: {text: yTitle, font: {size: 7, color: '#222', family: FONT}, standoff: 12}
  };
  layout.shapes.push({type: 'rect', xref: xa + ' domain', yref: ya + ' domain',
    x0: 0, x1: 1, y0: 0, y1: 1, line: {color: '#9a9a9a', width: 1}});
  layout.annotations.push({xref: 'paper', yref: 'paper',
    x: (g.l + g.tx) / W, y: (H - (g.t + g.ty)) / H, xanchor: 'left', yanchor: 'middle',
    text: '<b>' + panelTitles[i] + '</b>', showarrow: false,
    font: {family: FONT, size: 19.5, color: '#1c1c1c'}});
});

// cropped edges of neighbouring figures at far left
[[9,266,243],[318,575,554],[628,885,861.5]].forEach(r => {
  layout.shapes.push({type:'line', xref:'paper', yref:'paper', x0:1/W, x1:1/W,
    y0:(H-r[1])/H, y1:(H-r[0])/H, line:{color:'#c4c4c4', width:2}});
  layout.shapes.push({type:'line', xref:'paper', yref:'paper', x0:0, x1:4/W,
    y0:(H-r[2])/H, y1:(H-r[2])/H, line:{color:'#444', width:1}});
});

Plotly.newPlot('chart', traces, layout, {staticPlot: true, displayModeBar: false});
</script>
</body>
</html>
